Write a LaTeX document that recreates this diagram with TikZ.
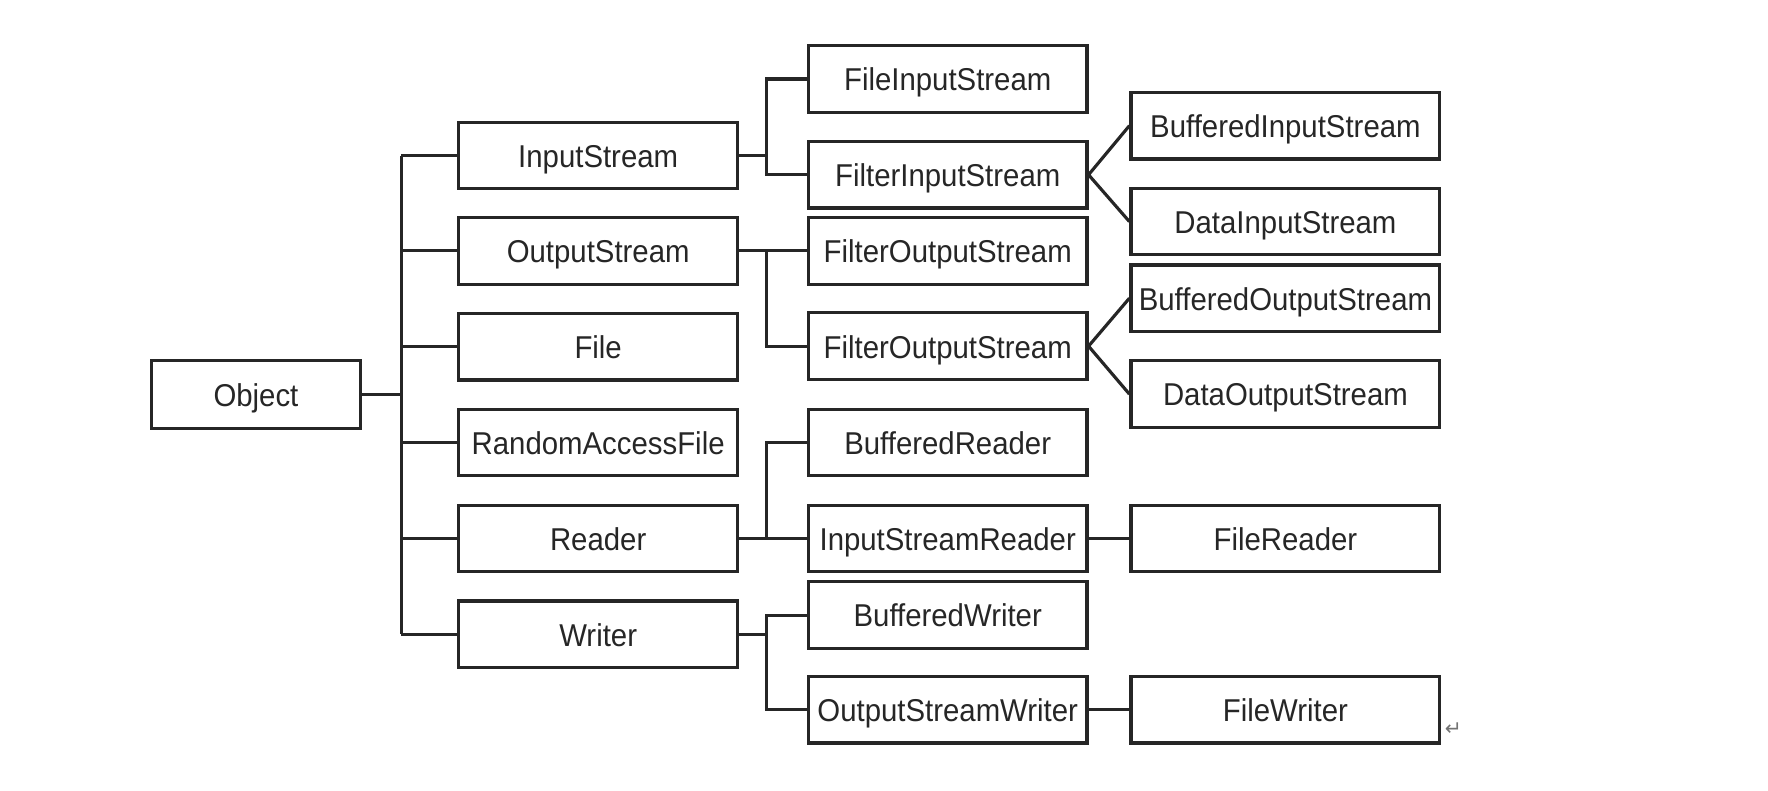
\documentclass[tikz,border=0pt]{standalone}
\usepackage{fontspec}
\newfontfamily\cf[FakeStretch=0.93]{Liberation Sans}
\newfontfamily\djsymfont{DejaVu Sans}
\begin{document}
\begin{tikzpicture}[x=0.5pt,y=-0.5pt,
  cls/.style={draw=black!85,line width=1.4pt,rectangle,minimum height=29.5pt,
    inner sep=1pt,text height=12pt,text depth=1.5pt,
    font=\cf\fontsize{14}{16}\selectfont,text=black!85},
  obj/.style={cls,minimum width=93pt,minimum height=30pt},
  lone/.style={cls,minimum width=123.5pt},
  ltwo/.style={cls,minimum width=123.5pt},
  lthree/.style={cls,minimum width=137pt},
  wire/.style={draw=black!85,line width=1.4pt}]
\useasboundingbox (0,0) rectangle (1568,701);
\node[obj] (obj) at (227,350) {Object};
\node[lone] (is) at (530.5,138) {InputStream};
\node[lone] (os) at (530.5,222.5) {OutputStream};
\node[lone] (fi) at (530.5,307.5) {File};
\node[lone] (raf) at (530.5,392.5) {RandomAccessFile};
\node[lone] (rd) at (530.5,477.5) {Reader};
\node[lone] (wr) at (530.5,562.5) {Writer};
\node[ltwo] (fis) at (840.5,70) {FileInputStream};
\node[ltwo] (filis) at (840.5,155) {FilterInputStream};
\node[ltwo] (fos1) at (840.5,222.5) {FilterOutputStream};
\node[ltwo] (fos2) at (840.5,307) {FilterOutputStream};
\node[ltwo] (br) at (840.5,392.5) {BufferedReader};
\node[ltwo] (isr) at (840.5,477.5) {InputStreamReader};
\node[ltwo] (bw) at (840.5,545.5) {BufferedWriter};
\node[ltwo] (osw) at (840.5,629.5) {OutputStreamWriter};
\node[lthree] (bis) at (1140,111.5) {BufferedInputStream};
\node[lthree] (dis) at (1140,196.5) {DataInputStream};
\node[lthree] (bos) at (1140,264.5) {BufferedOutputStream};
\node[lthree] (dos) at (1140,349.5) {DataOutputStream};
\node[lthree] (fr) at (1140,477.5) {FileReader};
\node[lthree] (fw) at (1140,629.5) {FileWriter};
\node[font=\djsymfont\fontsize{9}{10}\selectfont,text=black!55,inner sep=0pt] (pm) at (1289,647) {↵};
\coordinate (tx) at (356,0);
\coordinate (b1) at (680,0);
% trunk
\draw[wire] (obj.east) -- (obj.east -| tx);
\draw[wire] (is.west -| tx) -- (wr.west -| tx);
\foreach \n in {is,os,fi,raf,rd,wr} \draw[wire] (\n.west -| tx) -- (\n.west);
% InputStream
\draw[wire] (is.east) -- (is.east -| b1);
\draw[wire] (fis.west) -| (b1 |- filis.west) -- (filis.west);
% OutputStream
\draw[wire] (os.east) -- (fos1.west);
\draw[wire] (b1 |- os.east) |- (fos2.west);
% Reader
\draw[wire] (rd.east) -- (isr.west);
\draw[wire] (b1 |- isr.west) |- (br.west);
% Writer
\draw[wire] (wr.east) -- (wr.east -| b1);
\draw[wire] (bw.west) -| (b1 |- osw.west) -- (osw.west);
% third level
\draw[wire] (bis.west) -- (filis.east) -- (dis.west);
\draw[wire] (bos.west) -- (fos2.east) -- (dos.west);
\draw[wire] (isr.east) -- (fr.west);
\draw[wire] (osw.east) -- (fw.west);
\end{tikzpicture}
\end{document}
